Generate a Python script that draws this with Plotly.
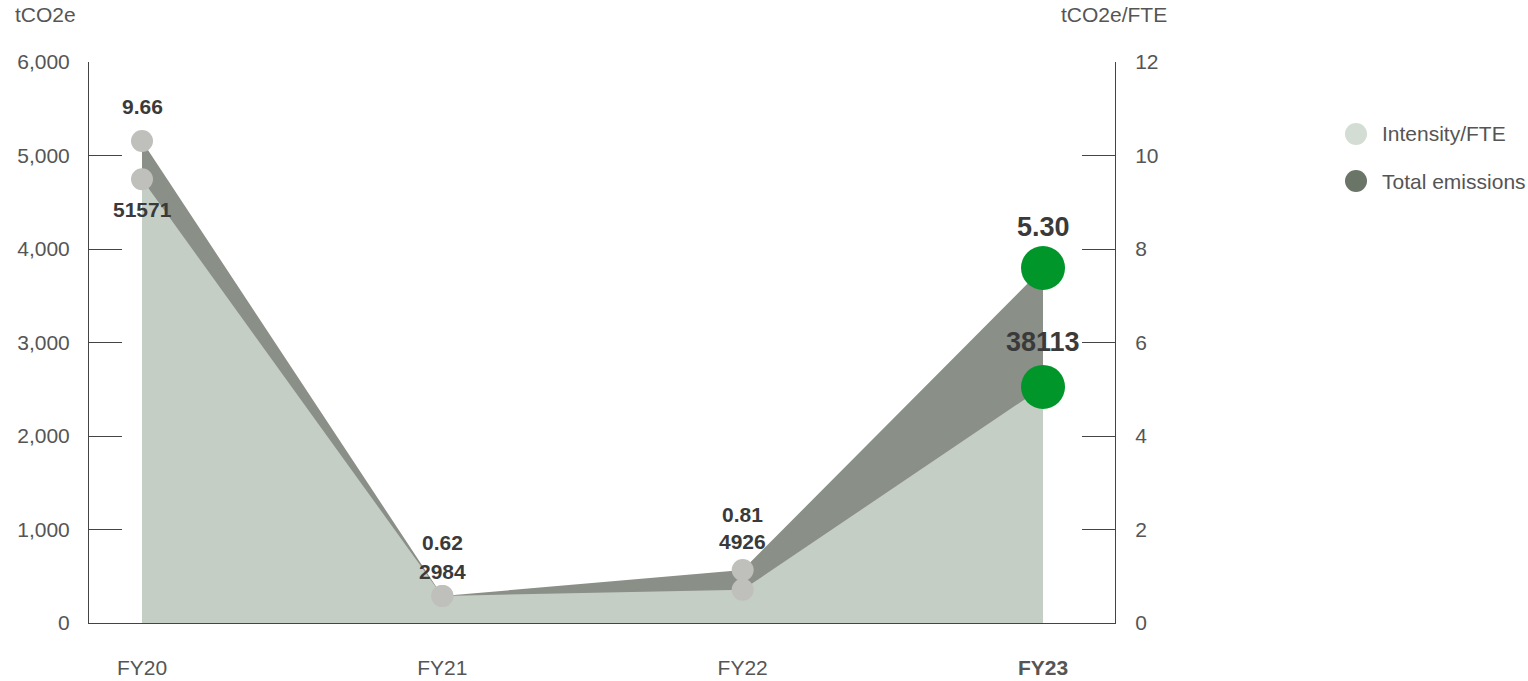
import plotly.graph_objects as go

# ---- data ----
categories = ["FY20", "FY21", "FY22", "FY23"]
tick_labels = ["FY20", "FY21", "FY22", "<b>FY23</b>"]
emissions_plot = [5155, 289, 567, 3797]      # plotted on left axis (tCO2e)
intensity_plot = [9.49, 0.58, 0.71, 5.05]    # plotted on right axis (tCO2e/FTE)
emissions_labels = ["51571", "2984", "4926", "38113"]
intensity_labels = ["9.66", "0.62", "0.81", "5.30"]

# ---- style ----
FONT = "Liberation Sans"
LIGHT = "#c4cec4"
DARK = "#8a8f87"
GREY_MK = "#bfc0bb"
GREEN = "#00962a"
AXIS = "#444444"
TXT = "#555555"
LBL = "#3a3a3a"
FS = 21

mk_colors = [GREY_MK, GREY_MK, GREY_MK, GREEN]
mk_sizes = [22, 22, 22, 44]

fig = go.Figure()

# dark area: total emissions (left axis)
fig.add_trace(go.Scatter(
    x=categories, y=emissions_plot, mode="none", fill="tozeroy",
    fillcolor=DARK, yaxis="y", showlegend=False, hoverinfo="skip"))
# light area: intensity (right axis)
fig.add_trace(go.Scatter(
    x=categories, y=intensity_plot, mode="none", fill="tozeroy",
    fillcolor=LIGHT, yaxis="y2", showlegend=False, hoverinfo="skip"))
# markers (on top)
fig.add_trace(go.Scatter(
    x=categories, y=emissions_plot, mode="markers", yaxis="y3",
    marker=dict(color=mk_colors, size=mk_sizes, opacity=1, line=dict(width=0)),
    showlegend=False))
fig.add_trace(go.Scatter(
    x=categories, y=intensity_plot, mode="markers", yaxis="y4",
    marker=dict(color=mk_colors, size=mk_sizes, opacity=1, line=dict(width=0)),
    showlegend=False))

# data labels
int_shift = [35, 53, 55, 41]     # relative to emissions point
em_shift = [-30, 24, 48, 45]     # relative to intensity point
lbl_size = [21, 21, 21, 27]
annotations = []
for i, c in enumerate(categories):
    annotations.append(dict(
        x=c, y=emissions_plot[i], xref="x", yref="y", text="<b>%s</b>" % intensity_labels[i],
        showarrow=False, yshift=int_shift[i],
        font=dict(family=FONT, size=lbl_size[i], color=LBL)))
    annotations.append(dict(
        x=c, y=intensity_plot[i], xref="x", yref="y2", text="<b>%s</b>" % emissions_labels[i],
        showarrow=False, yshift=em_shift[i],
        font=dict(family=FONT, size=lbl_size[i], color=LBL)))

# axis titles
annotations.append(dict(x=-0.0741, y=1.0838, xref="paper", yref="paper", text="tCO2e",
                        showarrow=False, xanchor="left", yanchor="middle",
                        font=dict(family=FONT, size=FS, color=TXT)))
annotations.append(dict(x=0.999, y=1.0838, xref="paper", yref="paper", text="tCO2e/FTE",
                        showarrow=False, xanchor="center", yanchor="middle",
                        font=dict(family=FONT, size=FS, color=TXT)))

# legend (custom)
legend_items = ["Intensity/FTE", "Total emissions"]
legend_colors = ["#d3ddd3", "#6b7567"]
legend_py = [134, 181]
shapes = []
for name, col, py in zip(legend_items, legend_colors, legend_py):
    yp = (623 - py) / 561
    xp = (1356 - 89) / 1026
    shapes.append(dict(type="circle", xref="paper", yref="paper",
                       xsizemode="pixel", ysizemode="pixel",
                       xanchor=xp, yanchor=yp, x0=-11, x1=11, y0=-11, y1=11,
                       fillcolor=col, line=dict(width=0)))
    annotations.append(dict(x=(1380 - 89) / 1026, y=yp, xref="paper", yref="paper",
                            text=name, showarrow=False, xanchor="left", yanchor="middle",
                            font=dict(family=FONT, size=FS, color=TXT)))

yaxis_common = dict(showgrid=False, zeroline=False, showline=True, linecolor=AXIS,
                    linewidth=1, ticks="inside", ticklen=33, tickcolor=AXIS, tickwidth=1,
                    automargin=False, tickfont=dict(family=FONT, size=FS, color=TXT))

fig.update_layout(
    width=1528, height=681,
    margin=dict(l=89, r=413, t=62, b=58),
    paper_bgcolor="white", plot_bgcolor="white",
    showlegend=False,
    xaxis=dict(type="category", range=[-0.1765, 3.2397], showgrid=False, zeroline=False,
               showline=True, linecolor=AXIS, linewidth=1, ticks="", automargin=False,
               tickvals=categories, ticktext=tick_labels, ticklabelstandoff=26,
               tickfont=dict(family=FONT, size=FS, color=TXT)),
    yaxis=dict(range=[0, 6000], tickvals=[0, 1000, 2000, 3000, 4000, 5000, 6000],
               tickformat=",", ticklabelstandoff=14, **yaxis_common),
    yaxis2=dict(range=[0, 12], tickvals=[0, 2, 4, 6, 8, 10, 12], overlaying="y",
                side="right", ticklabelstandoff=15, **yaxis_common),
    yaxis3=dict(range=[0, 6000], overlaying="y", visible=False),
    yaxis4=dict(range=[0, 12], overlaying="y", visible=False),
    annotations=annotations,
    shapes=shapes,
)

fig.write_html("out.html", config={"displayModeBar": False},
               post_script="document.body.style.margin='0px';")
